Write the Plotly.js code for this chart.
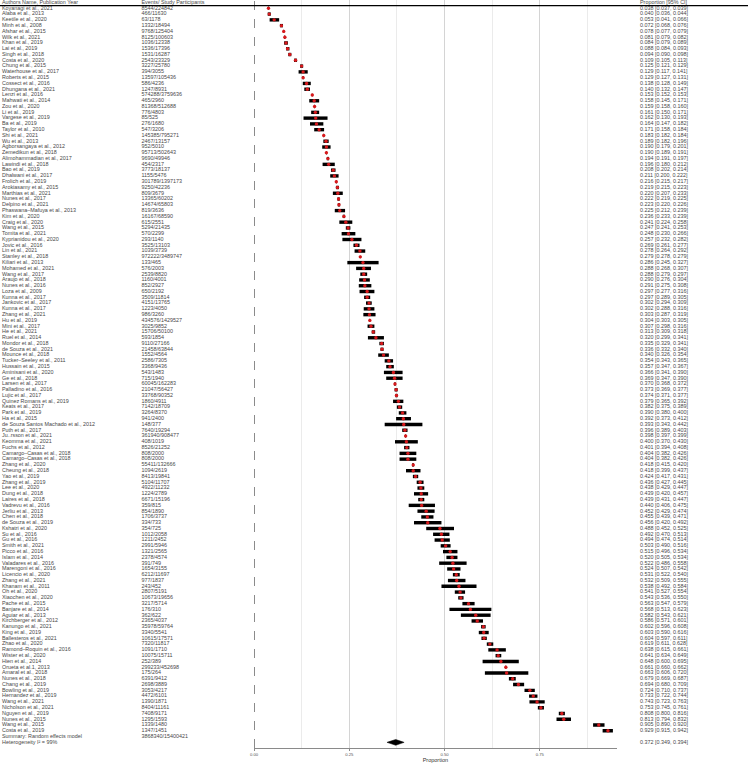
<!DOCTYPE html>
<html><head><meta charset="utf-8">
<script src="https://cdn.plot.ly/plotly-3.0.1.min.js"></script>
<style>html,body{margin:0;padding:0;background:#fff}</style>
</head><body><div id="chart" style="width:750px;height:765px"></div>
<script>
const studyNames = ["Koyanagi et al., 2021","Alaba et al., 2013","Keetile et al., 2020","Minh et al., 2008","Afshar et al., 2015","Wilk et al., 2021","Khan et al., 2019","Lai et al., 2019","Singh et al., 2018","Costa et al., 2020","Chung et al., 2015","Waterhouse et al., 2017","Roberts et al., 2015","Cossect et al., 2016","Dhungana et al., 2021","Lenzi et al., 2016","Mahwati et al., 2014","Zou et al., 2020","Li et al., 2019","Vargese et al., 2019","Ba et al., 2019","Taylor et al., 2010","Shi et al., 2021","Wu et al., 2013","Agborsangaya et al., 2012","Zemedikun et al., 2018","Alimohammadian et al., 2017","Lawindi et al., 2018","Bao et al., 2019","Dhalwani et al., 2017","Frolich et al., 2019","Arokiasamy et al., 2015","Marthias et al., 2021","Nunes et al., 2017","Delpino et al., 2021","Phaswana–Mafuya et al., 2013","Kim et al., 2020","Craig et al., 2020","Wang et al., 2015","Tomita et al., 2021","Kyprianidou et al., 2020","Jovic et al., 2016","Lin et al., 2021","Stanley et al., 2018","Kiliari et al., 2013","Mohamed et al., 2021","Wang et al., 2017","Araujo et al., 2018","Nunes et al., 2016","Loza et al., 2009","Kunna et al., 2017","Jankovic et al., 2017","Kunna et al., 2017","Zhang et al., 2021","Hu et al., 2019","Mini et al., 2017","He et al., 2021","Ruel et al., 2014","Mondor et al., 2018","de Souza et al., 2021","Mounce et al., 2018","Tucker–Seeley et al., 2011","Hussain et al., 2015","Aminisani et al., 2020","Ge et al., 2018","Larsen et al., 2017","Palladino et al., 2016","Lujic et al., 2017","Quinez Romans et al., 2019","Keats et al., 2017","Park et al., 2019","Ha et al., 2015","de Souza Santos Machado et al., 2012","Puth et al., 2017","Ju..rsson et al., 2021","Keomma et al., 2021","Fuchs et al., 2012","Camargo–Casas et al., 2018","Camargo–Casas et al., 2018","Zhang et al., 2020","Cheung et al., 2018","Yao et al., 2019","Zhang et al., 2019","Lee et al., 2020","Dung et al., 2018","Laires et al., 2018","Vadrevu et al., 2016","Jerliu et al., 2013","Chen et al., 2018","de Souza et al., 2019","Kshatri et al., 2020","Su et al., 2016","Gu et al., 2016","Smith et al., 2021","Picco et al., 2016","Islam et al., 2014","Valadares et al., 2016","Marengoni et al., 2016","Licencio et al., 2020","Zhang et al., 2021","Khanam et al., 2011","Oh et al., 2020","Xiaochen et al., 2020","Pache et al., 2015","Banjare et al., 2014","Aguiar et al., 2013","Kirchberger et al., 2012","Kanungo et al., 2021","King et al., 2019","Ballesteros et al., 2021","Zhao et al., 2020","Ramond–Roquin et al., 2016","Wister et al., 2020","Hien et al., 2014","Orueta et al.1, 2013","Amaral et al., 2018","Nunes et al., 2018","Chang et al., 2019","Bowling et al., 2019","Hernandez et al., 2019","Wang et al., 2021","Nicholson et al., 2021","Nguyen et al., 2019","Nunes et al., 2015","Wang et al., 2015","Costa et al., 2019"];

const eventsText = ["8544/224842","466/11630","63/1178","1332/18494","9768/125404","8125/100603","1036/12338","1536/17396","1531/16287","2543/23329","3227/25780","394/3055","13597/105436","586/4236","1247/8931","574288/3759636","465/2960","81368/512688","776/4803","85/525","276/1680","547/3206","145385/795271","2467/13157","952/5010","95713/502643","9690/49946","454/2317","3773/18137","1155/5476","301789/1397173","9250/42236","809/3679","13365/60202","14674/65803","819/3636","16167/68590","615/2551","5294/21435","570/2299","293/1140","3525/13103","1039/3739","972222/3489747","133/465","576/2003","2539/8820","1160/4001","852/2927","650/2192","3509/11814","4151/13765","1223/4050","986/3260","434576/1429527","3025/9852","15706/50100","593/1854","9110/27166","21458/63844","1552/4564","2586/7305","3368/9436","543/1483","715/1940","60045/162283","21047/56427","33768/90352","1860/4911","7142/18709","3264/8370","941/2400","148/377","7640/19294","361940/908477","408/1019","8526/21252","808/2000","808/2000","55411/132666","1094/2619","8413/19841","5104/11707","4922/11232","1224/2789","6671/15196","359/815","854/1890","1706/3737","334/733","354/725","1012/2058","1211/2452","2991/5946","1321/2565","2378/4574","391/749","1654/3155","6212/11697","977/1837","243/452","2807/5191","10673/19656","3217/5714","176/310","362/622","2365/4037","35978/59764","3340/5541","10615/17571","7320/11817","1091/1710","10075/15711","252/389","299233/452698","175/264","6391/9412","2698/3889","3053/4217","4472/6101","1390/1871","8404/11161","7408/9171","1295/1593","1339/1480","1347/1451"];

const proportion = [0.038,0.040,0.053,0.072,0.078,0.081,0.084,0.088,0.094,0.109,0.125,0.129,0.129,0.138,0.140,0.153,0.158,0.159,0.161,0.162,0.164,0.171,0.183,0.189,0.190,0.190,0.194,0.196,0.208,0.211,0.216,0.219,0.220,0.222,0.223,0.225,0.236,0.241,0.247,0.248,0.257,0.269,0.278,0.279,0.286,0.288,0.288,0.290,0.291,0.297,0.297,0.302,0.302,0.303,0.304,0.307,0.313,0.320,0.335,0.336,0.340,0.354,0.357,0.366,0.369,0.370,0.373,0.374,0.379,0.382,0.390,0.392,0.393,0.396,0.398,0.400,0.401,0.404,0.404,0.418,0.418,0.424,0.436,0.438,0.439,0.439,0.440,0.452,0.455,0.456,0.488,0.492,0.494,0.503,0.515,0.520,0.522,0.524,0.531,0.532,0.538,0.541,0.543,0.563,0.568,0.582,0.586,0.602,0.603,0.604,0.619,0.638,0.641,0.648,0.661,0.663,0.679,0.694,0.724,0.733,0.743,0.753,0.808,0.813,0.905,0.929];

const ciLower = [0.037,0.036,0.041,0.068,0.077,0.079,0.079,0.084,0.090,0.105,0.121,0.117,0.127,0.128,0.132,0.152,0.145,0.158,0.150,0.130,0.147,0.158,0.182,0.182,0.179,0.189,0.191,0.180,0.202,0.200,0.215,0.215,0.207,0.219,0.220,0.212,0.233,0.224,0.241,0.230,0.232,0.261,0.264,0.278,0.245,0.268,0.279,0.276,0.275,0.277,0.289,0.294,0.288,0.287,0.303,0.298,0.309,0.299,0.329,0.332,0.326,0.343,0.347,0.341,0.347,0.368,0.369,0.371,0.365,0.375,0.380,0.373,0.343,0.389,0.397,0.370,0.394,0.382,0.382,0.415,0.399,0.417,0.427,0.429,0.420,0.431,0.406,0.429,0.439,0.420,0.452,0.470,0.474,0.490,0.496,0.505,0.486,0.507,0.522,0.509,0.492,0.527,0.536,0.547,0.513,0.543,0.571,0.596,0.590,0.597,0.611,0.615,0.634,0.600,0.660,0.606,0.669,0.680,0.710,0.722,0.723,0.745,0.800,0.794,0.890,0.915];

const ciUpper = [0.039,0.044,0.066,0.076,0.079,0.082,0.089,0.093,0.098,0.113,0.129,0.141,0.131,0.149,0.147,0.153,0.171,0.160,0.171,0.193,0.182,0.184,0.184,0.196,0.201,0.191,0.197,0.212,0.214,0.222,0.217,0.223,0.233,0.225,0.226,0.239,0.239,0.258,0.253,0.266,0.282,0.277,0.292,0.279,0.327,0.307,0.297,0.304,0.308,0.316,0.305,0.309,0.316,0.319,0.305,0.316,0.318,0.341,0.341,0.340,0.354,0.365,0.367,0.390,0.390,0.372,0.377,0.377,0.392,0.389,0.400,0.412,0.442,0.403,0.399,0.430,0.408,0.426,0.426,0.420,0.437,0.431,0.445,0.447,0.457,0.447,0.475,0.474,0.471,0.492,0.525,0.513,0.514,0.516,0.534,0.534,0.558,0.542,0.540,0.555,0.584,0.554,0.550,0.579,0.623,0.621,0.601,0.608,0.616,0.611,0.628,0.661,0.649,0.695,0.662,0.720,0.687,0.709,0.737,0.744,0.763,0.761,0.816,0.832,0.920,0.942];

const summaryLabel = "Summary: Random effects model";
const summaryEvents = "3868340/15400421";
const summaryEstimate = 0.372, summaryLower = 0.349, summaryUpper = 0.394;
const heterogeneityText = "Heterogeneity I\u00b2 = 99%";
const headerLabels = ["Authors Name, Publication Year", "Events/ Study Participants", "Proportion [95% CI]"];
const xTickVals = [0, 0.25, 0.5, 0.75];
const xTickText = ["0.00", "0.25", "0.50", "0.75"];

// ---------- build ----------
const n = studyNames.length;
const rows = studyNames.map((_, i) => i);
const summaryRow = n, hetRow = n + 1;
const fmt = v => v.toFixed(3);
const ciText = proportion.map((p, i) => `${fmt(p)} [${fmt(ciLower[i])}, ${fmt(ciUpper[i])}]`);

const W = 750, H = 765;
const rowTopPx = 8.3, rowStep = 5.78, plotBottomPx = 748;
const yTop = (0 - rowTopPx) / rowStep;
const yBot = (plotBottomPx - rowTopPx) / rowStep;
const panelL = 254, pxPerUnit = 381, xMax = 0.952;
const panelR = panelL + xMax * pxPerUnit;

const txtFont = {family: "Liberation Sans, Arial, sans-serif", size: 5.4, color: "#484848"};
const colName = 2, colEvents = 141.5, colCI = 640;

const ciX = [], ciY = [];
rows.forEach(i => { ciX.push(ciLower[i], ciUpper[i], null); ciY.push(i, i, null); });

const textTrace = (xs, ys, texts) => ({type: "scatter", mode: "text", x: xs, y: ys, text: texts,
  textposition: "middle right", textfont: txtFont, xaxis: "x2", yaxis: "y2", cliponaxis: false, hoverinfo: "skip"});

const traces = [
  {type: "scatter", mode: "lines", x: ciX, y: ciY, xaxis: "x", yaxis: "y",
   line: {color: "#000", width: 3.4}, hoverinfo: "skip"},
  {type: "scatter", mode: "markers", x: proportion, y: rows, xaxis: "x", yaxis: "y",
   marker: {color: "#d7191c", size: 3.4, symbol: "circle", line: {width: 0}}},
  {type: "scatter", mode: "lines", fill: "toself", fillcolor: "#000",
   x: [summaryLower, summaryEstimate, summaryUpper, summaryEstimate, summaryLower],
   y: [hetRow, hetRow - 0.5, hetRow, hetRow + 0.5, hetRow], xaxis: "x", yaxis: "y",
   line: {color: "#000", width: 0.5}},
  textTrace(rows.map(() => colName), rows, studyNames),
  textTrace(rows.map(() => colEvents), rows, eventsText),
  textTrace(rows.map(() => colCI), rows, ciText),
  textTrace([colName, colEvents, colName, colCI], [summaryRow, summaryRow, hetRow, hetRow],
    [summaryLabel, summaryEvents, heterogeneityText, `${fmt(summaryEstimate)} [${fmt(summaryLower)}, ${fmt(summaryUpper)}]`]),
  textTrace([colName, colEvents, colCI], [-0.97, -0.97, -0.97], headerLabels)
];

const layout = {
  width: W, height: H, margin: {l: 0, r: 0, t: 0, b: H - plotBottomPx, pad: 0},
  paper_bgcolor: "#fff", plot_bgcolor: "rgba(0,0,0,0)", showlegend: false,
  xaxis: {domain: [panelL / W, panelR / W], range: [0, xMax], tickvals: xTickVals, ticktext: xTickText,
    showgrid: true, gridcolor: "#d4d4d4", gridwidth: 1.2, zeroline: false,
    minor: {tickvals: [0.125, 0.375, 0.625, 0.875], showgrid: true, gridcolor: "#e6e6e6", gridwidth: 0.8, ticks: ""},
    showline: true, linecolor: "#8a8a8a", linewidth: 1.4, ticks: "outside", ticklen: 2, tickcolor: "#8a8a8a",
    tickfont: {family: "Liberation Sans, Arial, sans-serif", size: 4.2, color: "#555"},
    title: {text: "Proportion", font: {family: "Liberation Sans, Arial, sans-serif", size: 5.5, color: "#333"}, standoff: 1},
    fixedrange: true},
  yaxis: {domain: [0, 1], range: [yBot, yTop], visible: false, fixedrange: true},
  xaxis2: {domain: [0, 1], range: [0, W], visible: false, anchor: "y2", fixedrange: true},
  yaxis2: {domain: [0, 1], range: [yBot, yTop], visible: false, anchor: "x2", fixedrange: true},
  shapes: [
    {type: "line", xref: "x", yref: "paper", x0: 0, x1: 0, y0: 0, y1: 1,
     line: {color: "#666", width: 1.5, dash: "dash"}},
    {type: "line", xref: "paper", yref: "y", x0: 0, x1: 748 / W, y0: -0.48, y1: -0.48,
     line: {color: "#000", width: 1.3}}
  ]
};

Plotly.newPlot("chart", traces, layout, {staticPlot: true, displayModeBar: false});
</script></body></html>
